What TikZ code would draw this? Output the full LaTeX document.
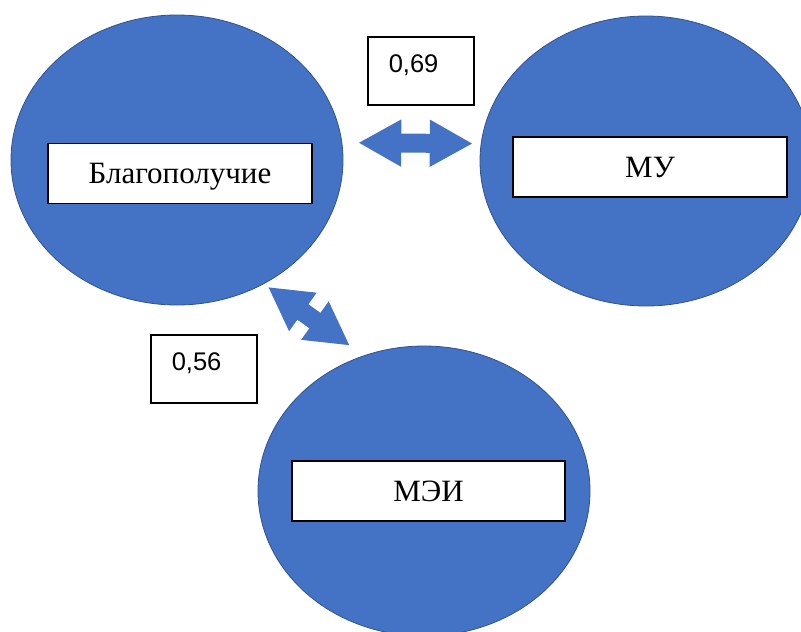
\documentclass[tikz,border=0pt]{standalone}
\usepackage{fontspec}
\setmainfont{Liberation Serif}
\newfontfamily\numfont{Liberation Sans}
\usetikzlibrary{shapes.geometric, arrows.meta}
\definecolor{blobblue}{HTML}{4472C4}
\definecolor{blobedge}{HTML}{2F528F}

\begin{document}
\begin{tikzpicture}[x=1pt, y=-1pt,
    blob/.style={ellipse, fill=blobblue, draw=blobedge, line width=0.8pt,
        minimum width=332pt, minimum height=290pt, inner sep=0pt},
    namebox/.style={draw=black, fill=white, line width=1.5pt,
        font=\fontsize{31}{37}\selectfont,
        text height=20.5pt, text depth=0pt, minimum height=60pt},
    numbox/.style={draw=black, fill=white, line width=1.5pt,
        font=\numfont\fontsize{25.5}{30}\selectfont,
        anchor=north west, minimum height=68pt, text width=64pt,
        inner xsep=21pt, text height=18pt, text depth=14pt},
    link/.style={blobblue, line width=19pt,
        {Triangle[width=44pt, length=43pt]}-{Triangle[width=44pt, length=43pt]}}]

    \useasboundingbox (0,0) rectangle (801,632);

    \node[blob] (wb) at (177,160) {};
    \node[blob] (mu) at (646,161) {};
    \node[blob] (mei) at (424,491) {};

    \node[namebox, minimum width=264pt] (wbl) at (180,173.5) {Благополучие};
    \node[namebox, minimum width=274pt] (mul) at (650,167) {МУ};
    \node[namebox, minimum width=273pt] (meil) at (428.5,491) {МЭИ};

    \node[numbox] (r1) at (367,36) {0,69};
    \node[numbox] (r2) at (150,334) {0,56};

    \draw[link, shorten <=16pt, shorten >=8pt] (wb.6) -- (mu.174);
    \draw[link, shorten <=5pt, shorten >=17pt] (wb.-55) -- (mei.114);
\end{tikzpicture}
\end{document}
